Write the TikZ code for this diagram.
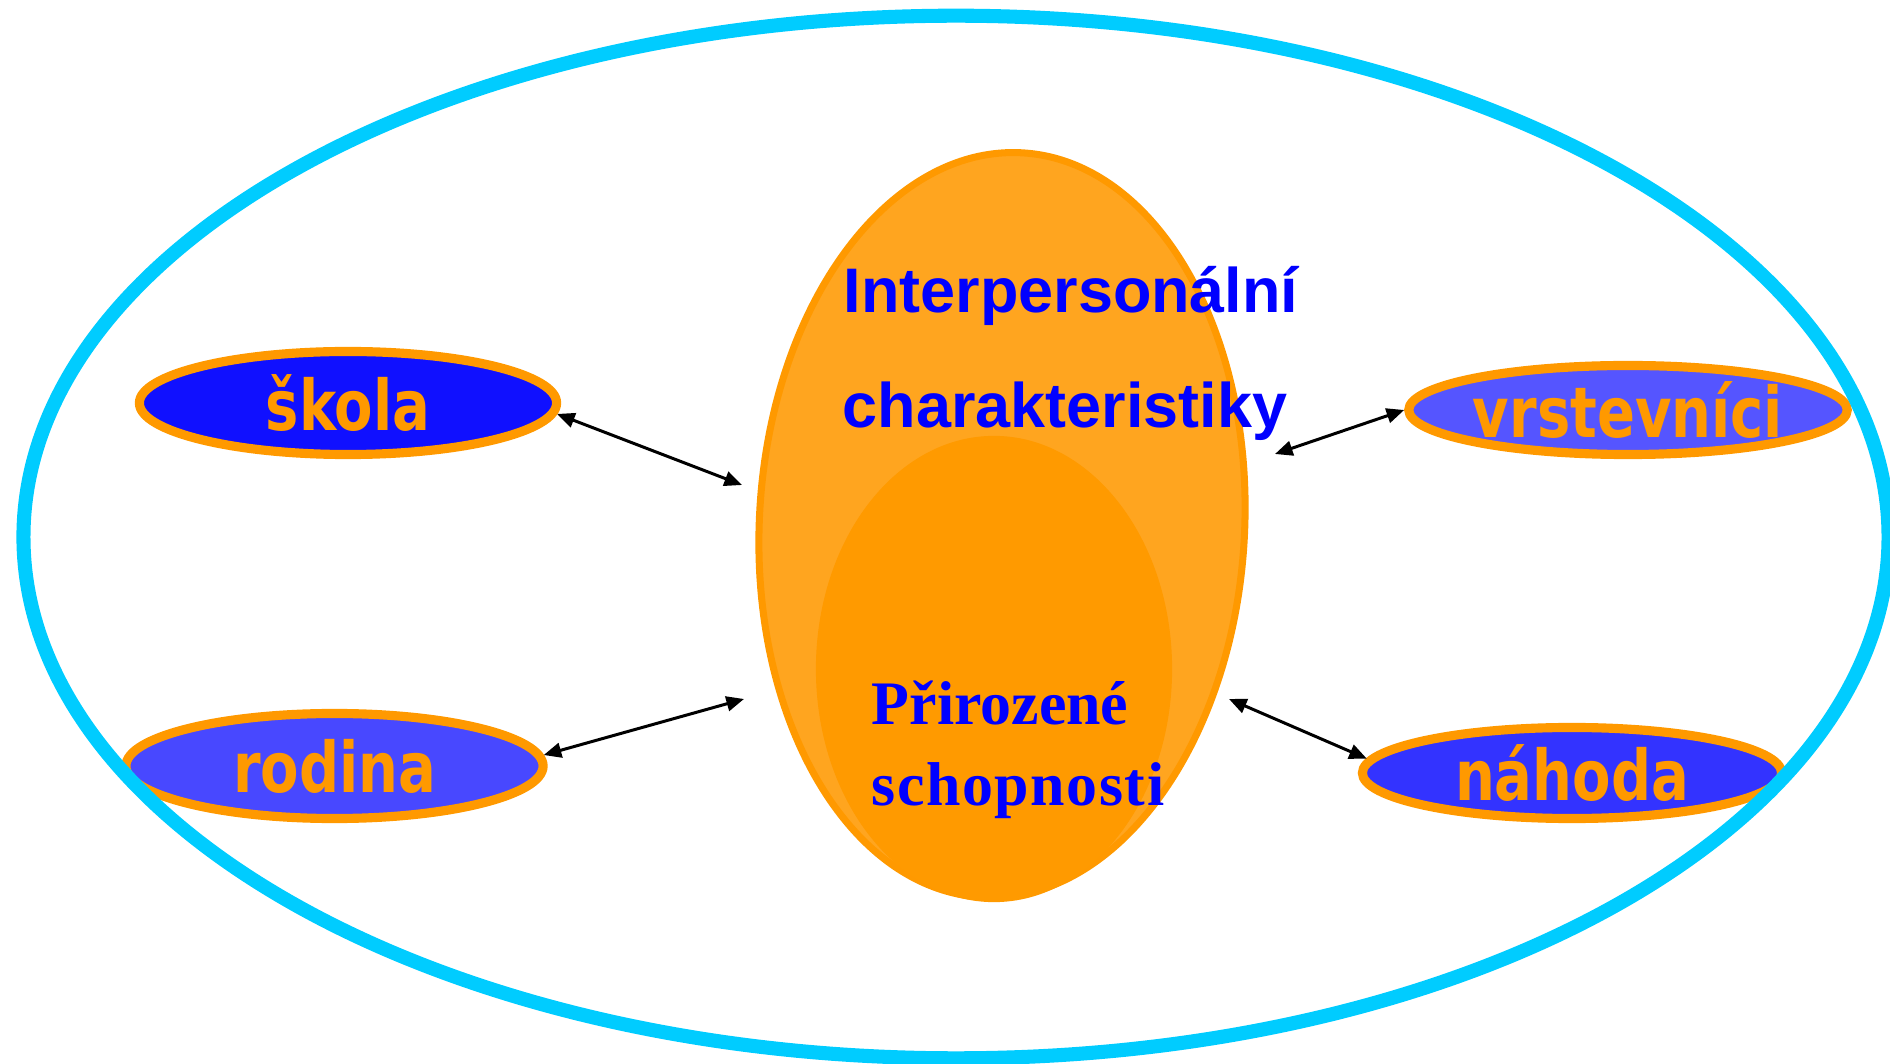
\documentclass[tikz,border=0pt]{standalone}
\usepackage{fontspec}
\usetikzlibrary{shapes.geometric,arrows.meta}
\newfontfamily\labelfont[FakeStretch=0.8]{DejaVu Sans}
\newfontfamily\headfont{Liberation Sans}
\newfontfamily\coresfont{Liberation Serif}
\definecolor{ringcyan}{HTML}{00CCFF}
\definecolor{shellor}{HTML}{FFA51F}
\definecolor{edgeor}{HTML}{FF9900}
\definecolor{coreor}{HTML}{FF9A00}
\definecolor{fillA}{HTML}{1010FF}
\definecolor{fillB}{HTML}{5555FF}
\definecolor{fillC}{HTML}{4848FF}
\definecolor{fillD}{HTML}{3333FF}
\definecolor{txtblue}{HTML}{0000FF}
\begin{document}
\begin{tikzpicture}[x=0.01cm, y=-0.01cm,
		main/.style = {draw=edgeor, ellipse, line width=2.6pt, inner sep=0pt, text=edgeor,
			font=\labelfont\bfseries\fontsize{19.9pt}{24pt}\selectfont},
		head/.style = {anchor=base west, inner sep=0pt, text=txtblue,
			font=\headfont\bfseries\fontsize{17.9pt}{21pt}\selectfont},
		core/.style = {anchor=base west, inner sep=0pt, text=txtblue,
			font=\coresfont\bfseries\fontsize{17.6pt}{21pt}\selectfont},
		link/.style = {{Triangle[length=5pt,width=4.2pt]}-{Triangle[length=5pt,width=4.2pt]}, line width=0.85pt}]
	\useasboundingbox (0,0) rectangle (1890,1064);
	\fill[shellor, draw=edgeor, line width=2pt, rotate around={-3:(1002,525)}] (1002,525) ellipse [x radius=2.425cm, y radius=3.725cm];
	\fill[coreor] (994,669) ellipse [x radius=1.78cm, y radius=2.33cm];
	\node[head] (h1) at (843,313) {Interpersonální};
	\node[head] (h2) at (842,428) {charakteristiky};
	\node[core] (c1) at (871,725) {Přirozené};
	\node[core, font=\coresfont\bfseries\fontsize{17.6pt}{21pt}\addfontfeature{LetterSpace=2.5}\selectfont] (c2) at (871,806) {schopnosti};
	\node[main, fill=fillA, minimum width=4.17cm, minimum height=1.03cm] (1) at (348,403) {škola};
	\node[main, fill=fillB, minimum width=4.37cm, minimum height=0.89cm] (2) at (1628,410) {vrstevníci};
	\node[main, fill=fillC, minimum width=4.17cm, minimum height=1.05cm] (3) at (334.5,766) {rodina};
	\node[main, fill=fillD, minimum width=4.19cm, minimum height=0.91cm] (4) at (1572,773) {náhoda};
	\coordinate (a1) at (742,485);
	\coordinate (a2) at (1275,454);
	\coordinate (a3) at (744,699);
	\coordinate (a4) at (1229,699);
	\draw[link] (1.-3) -- (a1);
	\draw[link] (2.west) -- (a2);
	\draw[link] (3.3) -- (a3);
	\draw[link] (4.176) -- (a4);
	\draw[ringcyan, line width=4pt] (956,537) ellipse [x radius=9.32cm, y radius=5.21cm];
\end{tikzpicture}
\end{document}
